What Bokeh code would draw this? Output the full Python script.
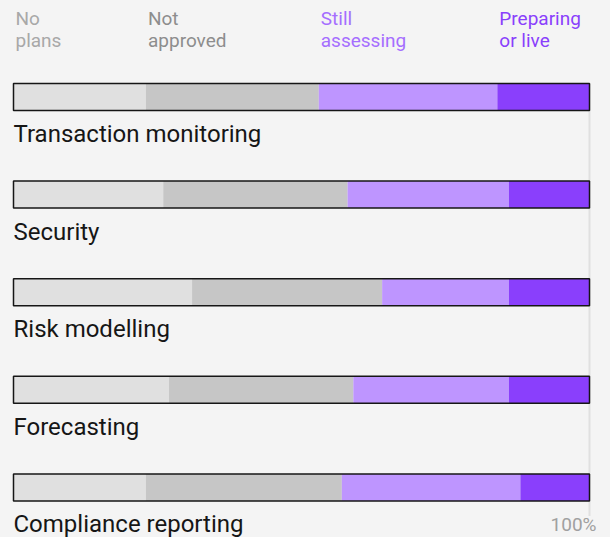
from bokeh.plotting import figure
from bokeh.models import Range1d, GlobalInlineStyleSheet
from bokeh.core.properties import value
from bokeh.embed import file_html
from bokeh.resources import INLINE

# ---- data ----
categories = ["Transaction monitoring", "Security", "Risk modelling",
              "Forecasting", "Compliance reporting"]
series_names = ["No plans", "Not approved", "Still assessing", "Preparing or live"]
legend_lines = [["No", "plans"], ["Not", "approved"], ["Still", "assessing"],
                ["Preparing", "or live"]]
no_plans = [23, 26, 31, 27, 23]
not_approved = [30, 32, 33, 32, 34]
still_assessing = [31, 28, 22, 27, 31]
preparing_or_live = [16, 14, 14, 14, 12]
end_label = "100%"

# ---- styles / layout ----
fill_colors = ["#e0e0e0", "#c6c6c6", "#be95ff", "#8a3ffc"]
legend_colors = ["#a8a8a8", "#8d8d8d", "#a56eff", "#8a3ffc"]
BG = "#f4f4f4"
FONT = "Roboto"
W, H = 610, 537
X0, X1 = 13, 589          # pixel positions of 0% and 100%
scale = (X1 - X0) / 100.0
BAR_TOP_CENTER = 96.5
BAR_STEP = 97.6
BAR_H = 27
LABEL_OFFSET = 45
TEXT_SHIFT = -8           # compensate baseline placement

p = figure(width=W, height=H,
           x_range=Range1d(-X0 / scale, (W - X0) / scale),
           y_range=Range1d(H, 0),
           output_backend="svg", toolbar_location=None,
           x_axis_type=None, y_axis_type=None, min_border=0)
p.grid.visible = False
p.outline_line_color = None
p.background_fill_color = BG
p.border_fill_color = BG
p.stylesheets = [GlobalInlineStyleSheet(css="html,body{margin:0;padding:0;background:%s;overflow:hidden;}" % BG)]

n = len(categories)
ys = [BAR_TOP_CENTER + i * BAR_STEP for i in range(n)]

# 100% reference line
p.segment(x0=[100], y0=[ys[0] - BAR_H / 2], x1=[100], y1=[ys[-1] + BAR_H / 2 + 15],
          line_color="#e0e0e0", line_width=2)

series = [no_plans, not_approved, still_assessing, preparing_or_live]
left = [0.0] * n
for vals, col in zip(series, fill_colors):
    right = [l + v for l, v in zip(left, vals)]
    p.hbar(y=ys, left=left, right=right, height=BAR_H,
           fill_color=col, line_color=None)
    left = right

# outline around each bar
p.hbar(y=ys, left=[0] * n, right=left, height=BAR_H,
       fill_color=None, line_color="#161616", line_width=1.5)

# category labels
p.text(x=[0] * n, y=[y + LABEL_OFFSET + TEXT_SHIFT for y in ys], text=categories,
       text_font=value(FONT), text_font_size="24px", text_color="#161616",
       text_baseline="alphabetic", text_align="left")

# legend (column headers aligned to first bar's segments)
starts = [0.0]
for vals in series[:-1]:
    starts.append(starts[-1] + vals[0])
for j, lines in enumerate(legend_lines):
    for k, t in enumerate(lines):
        p.text(x=[starts[j]], y=[26 + 22 * k + TEXT_SHIFT], text=[t],
               x_offset=2,
               text_font=value(FONT), text_font_size="19px",
               text_color=legend_colors[j], text_baseline="alphabetic",
               text_align="left")

# 100% label
p.text(x=[100], y=[ys[-1] + LABEL_OFFSET + TEXT_SHIFT], text=[end_label], x_offset=7,
       text_font=value(FONT), text_font_size="19px", text_color="#a0a0a0",
       text_baseline="alphabetic", text_align="right")

open("out.html", "w").write(file_html(p, INLINE))
